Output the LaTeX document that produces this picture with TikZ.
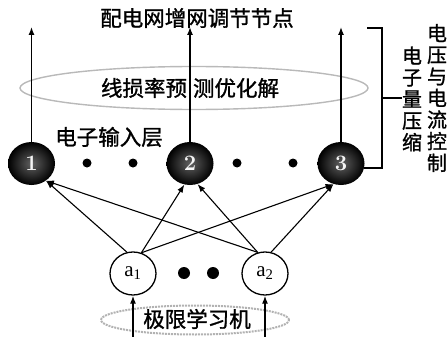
\documentclass[tikz,border=0pt]{standalone}
\usepackage{fontspec}
\newfontfamily\cjk[FakeBold=1.2]{Noto Sans CJK SC}
\newfontfamily\serif{Liberation Serif}
\usetikzlibrary{arrows.meta,shapes.geometric}

\begin{document}
\begin{tikzpicture}[x=1pt,y=-1pt,
  arr/.style={-{Latex[length=8pt,width=6pt]},line width=1.3pt},
  link/.style={-{Latex[length=8pt,width=6pt]},line width=1.1pt},
  ball/.style={ellipse,minimum width=47pt,minimum height=43pt,inner sep=0pt,
    shading=radial,inner color=black!62,outer color=black,
    font=\bfseries\fontsize{22}{22}\selectfont,text=white!92!gray},
  unit/.style={ellipse,draw,line width=1.3pt,minimum width=46pt,minimum height=43pt,
    inner sep=0pt,font=\serif\fontsize{21}{21}\selectfont},
  dot/.style={circle,fill=black,inner sep=0pt,minimum size=#1},
  label/.style={font=\cjk\fontsize{21.5}{21.5}\selectfont,inner sep=0pt},
  column/.style={font=\cjk\fontsize{20}{21.6}\selectfont,align=center,inner sep=0pt}
]
\useasboundingbox (0,0) rectangle (447,337);

% title
\node[label] (title) at (197,18) {配电网增网调节节点};

% optimisation ring
\node[ellipse,draw=gray!55,line width=1.4pt,minimum width=348pt,minimum height=43pt] (ring) at (194,88) {};
\node[label] (ringtxt) at (190,88) {线损率预\hspace{6pt}测优化解};

% output neurons
\node[ball] (n1) at (31.5,163.5) {1};
\node[ball] (n2) at (190,163.5) {2};
\node[ball] (n3) at (341,163.5) {3};
\node[label] (layer) at (109,137) {电子输入层};

\node[dot=9pt] (d1) at (87,163) {};
\node[dot=9pt] (d2) at (133,163) {};
\node[dot=9pt] (d3) at (237,163) {};
\node[dot=9pt] (d4) at (293,163) {};

% upward outputs
\coordinate (t1) at (31.5,27);
\coordinate (t2) at (190,27);
\coordinate (t3) at (341,27);
\draw[arr] (n1.north) -- (t1);
\draw[arr] (n2.north) -- (t2);
\draw[arr] (n3.north) -- (t3);

% hidden units
\node[unit] (a1) at (133,273.5) {a\textsubscript{1}};
\node[unit] (a2) at (265,273.5) {a\textsubscript{2}};
\node[dot=12pt] (d5) at (184,273) {};
\node[dot=12pt] (d6) at (213,273) {};

% connections
\draw[link] (a1.106) -- (n1.-50);
\draw[link] (a1.68) -- (n2.-105);
\draw[link] (a1.68) -- (n3.-110);
\draw[link] (a2.109) -- (n1.-50);
\draw[link] (a2.109) -- (n2.-70);
\draw[link] (a2.74) -- (n3.-110);

% learning machine
\node[ellipse,draw=gray!60,line width=2pt,densely dotted,minimum width=188pt,minimum height=29pt] (elm) at (195,320) {};
\node[label] (elmtxt) at (197,319) {极限学习机};
\coordinate (b1) at (133,337);
\coordinate (b2) at (265,337);
\draw[arr] (b1) -- (a1.south);
\draw[arr] (b2) -- (a2.south);

% bracket and side labels
\node[column] (col1) at (412,99) {电\\子\\量\\压\\缩};
\node[column] (col2) at (437,98) {电\\压\\与\\电\\流\\控\\制};
\coordinate (bt) at (367,28);
\coordinate (bm) at (382,98);
\coordinate (bb) at (364,168);
\draw[line width=1.8pt] (bt) -- ++(15,0) |- (bb);
\draw[line width=1.8pt] (bm) -- (col1.west |- bm);
\end{tikzpicture}
\end{document}
